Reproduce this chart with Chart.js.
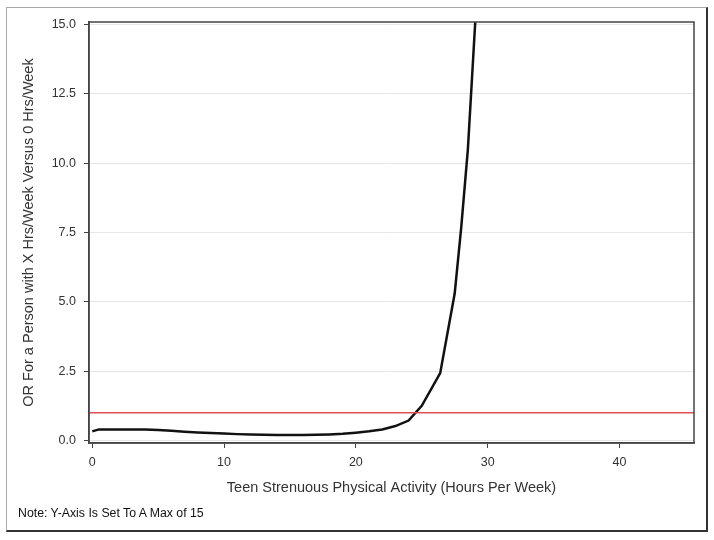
<!DOCTYPE html>
<html>
<head>
    <meta charset="UTF-8">
    <title>OR by Teen Strenuous Physical Activity</title>
    <script src="https://cdn.jsdelivr.net/npm/chart.js"></script>
    <style>
        body { margin: 0; background: #fff; }
        #wrap { position: relative; width: 714px; height: 540px; }
        #frame {
            position: absolute; left: 6px; top: 7px; width: 699px; height: 522px;
            border-top: 1px solid #a8a8a8; border-left: 1px solid #a8a8a8;
            border-right: 2px solid #333; border-bottom: 2px solid #333;
        }
        #note {
            position: absolute; left: 18px; top: 506px;
            font: 12.3px "Liberation Sans", Arial, sans-serif; color: #111;
        }
        canvas { position: absolute; left: 0; top: 0; }
    </style>
</head>
<body>
<div id="wrap">
    <div id="frame"></div>
    <canvas id="myChart" width="714" height="540"></canvas>
    <div id="note">Note: Y-Axis Is Set To A Max of 15</div>
</div>

<script>
// hours per week of teen strenuous activity and the odds ratio
const hours = [0, 0.5, 2, 4, 5, 6, 7, 8, 9, 10, 11, 12, 13, 14, 15, 16, 17, 18, 19, 20,
               21, 22, 23, 24, 25, 26.4, 27.5, 28, 28.5, 29, 29.3];
const oddsRatio = [0.33, 0.40, 0.40, 0.40, 0.38, 0.35, 0.32, 0.29, 0.27, 0.25, 0.23, 0.22, 0.21, 0.20, 0.20, 0.20,
                   0.21, 0.22, 0.24, 0.28, 0.33, 0.40, 0.52, 0.72, 1.25, 2.43, 5.3, 7.7, 10.5, 14.6, 17];
const refOR = 1;
const xRange = [-0.25, 45.66];
const yRange = [-0.09, 15.09];
const xTickStep = 10;
const yTickStep = 2.5;

const font = '"Liberation Sans", Arial, sans-serif';

const frameBox = {
    id: 'frameBox',
    afterDraw(chart) {
        const a = chart.chartArea, c = chart.ctx;
        c.save();
        c.strokeStyle = '#444';
        c.lineWidth = 1.5;
        c.strokeRect(a.left, a.top, a.right - a.left, a.bottom - a.top);
        c.restore();
    }
};

const ctx = document.getElementById('myChart').getContext('2d');
const chart = new Chart(ctx, {
    type: 'line',
    data: {
        datasets: [{
            label: 'OR = 1',
            data: xRange.map(x => ({x: x, y: refOR})),
            borderColor: 'rgb(224,78,88)',
            borderWidth: 1.6,
            pointRadius: 0,
            fill: false
        }, {
            label: 'OR',
            data: hours.map((h, i) => ({x: h, y: oddsRatio[i]})),
            borderColor: '#111',
            borderWidth: 2.5,
            pointRadius: 0,
            fill: false
        }]
    },
    options: {
        responsive: false,
        animation: false,
        layout: { padding: { left: 0, top: 22, right: 20, bottom: 17 } },
        plugins: { legend: { display: false }, tooltip: { enabled: false } },
        scales: {
            x: {
                type: 'linear',
                min: xRange[0], max: xRange[1],
                afterFit: (s) => { s.height = 80; },
                grid: { drawOnChartArea: false, tickColor: '#444', tickLength: 5 },
                border: { color: '#444', width: 1.5 },
                ticks: { stepSize: xTickStep, includeBounds: false, padding: 7, color: '#333', font: { family: font, size: 12.5 } },
                title: { display: true, text: 'Teen Strenuous Physical Activity (Hours Per Week)', color: '#333',
                         font: { family: font, size: 14.5 }, padding: { bottom: 26 } }
            },
            y: {
                min: yRange[0], max: yRange[1],
                afterFit: (s) => { s.width = 89; },
                grid: { color: '#e6e6e6', tickColor: '#444', tickLength: 5 },
                border: { color: '#444', width: 1.5 },
                ticks: { stepSize: yTickStep, includeBounds: false, padding: 8, color: '#333',
                         font: { family: font, size: 12.5 }, callback: v => v.toFixed(1) },
                title: { display: true, text: 'OR For a Person with X Hrs/Week Versus 0 Hrs/Week', color: '#333',
                         font: { family: font, size: 14.5 }, padding: { top: 20 } }
            }
        }
    },
    plugins: [frameBox]
});
</script>
</body>
</html>
